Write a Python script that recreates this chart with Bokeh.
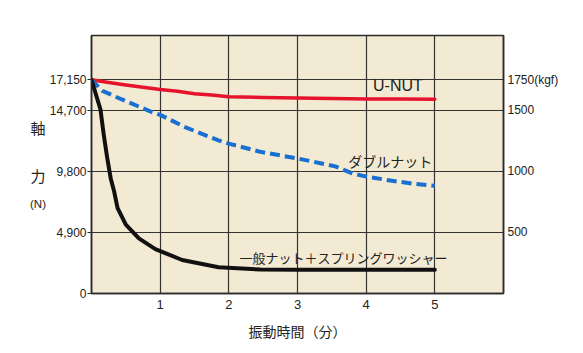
from bokeh.plotting import figure
from bokeh.layouts import row
from bokeh.models import Range1d, LinearAxis, FixedTicker, Label, NumeralTickFormatter
from bokeh.embed import file_html
from bokeh.resources import INLINE

# ---- data ----
x_ticks = [1, 2, 3, 4, 5]
y_ticks_n = [0, 4900, 9800, 14700, 17150]
y_ticks_kgf = [500, 1000, 1500, 1750]

unut_x = [0, 0.25, 0.5, 0.75, 1, 1.25, 1.5, 1.75, 2, 2.5, 3, 3.5, 4, 4.5, 5]
unut_y = [17150, 16940, 16740, 16560, 16380, 16230, 16030, 15930, 15800, 15730, 15700, 15650, 15620, 15610, 15600]

double_x = [0, 0.16, 0.4, 0.88, 1.0, 1.36, 1.85, 2.0, 2.46, 3, 3.35, 3.55, 3.8, 4, 4.4, 4.7, 5]
double_y = [17150, 16265, 15675, 14560, 14340, 13360, 12290, 12030, 11370, 10840, 10440, 10200, 9640, 9380, 9030, 8800, 8640]

spring_x = [0, 0.13, 0.18, 0.23, 0.28, 0.33, 0.38, 0.5, 0.69, 0.93, 1.32, 1.85, 2.46, 3.0, 4.0, 5.0]
spring_y = [17150, 14790, 12690, 10840, 9240, 8180, 6850, 5520, 4420, 3560, 2690, 2110, 1920, 1910, 1905, 1900]

Y_MAX = 20708
G = 9.8

JP = "Noto Sans CJK JP"
NUM = "Liberation Sans"

SIDE_W = 46
FRAME_TOP = 35
FRAME_BOTTOM = 293
FRAME_H = FRAME_BOTTOM - FRAME_TOP

# ---- left strip holding the stacked y-axis title (its frame aligns with the main frame) ----
side = figure(width=SIDE_W, height=353, output_backend="svg", toolbar_location=None,
              x_range=Range1d(0, SIDE_W), y_range=Range1d(0, FRAME_H),
              x_axis_type=None, y_axis_type=None,
              min_border_left=0, min_border_right=0, min_border_top=FRAME_TOP,
              min_border_bottom=353 - FRAME_BOTTOM)
side.outline_line_color = None
side.background_fill_color = "white"
side.border_fill_color = "white"
side.xgrid.visible = False
side.ygrid.visible = False
side.add_layout(Label(x=37.5, y=FRAME_BOTTOM - 127, text="軸", text_font=JP, text_font_size="15px",
                      text_color="#222222", text_align="center", text_baseline="middle"))
side.add_layout(Label(x=37.5, y=FRAME_BOTTOM - 175, text="力", text_font=JP, text_font_size="15px",
                      text_color="#222222", text_align="center", text_baseline="middle"))
side.add_layout(Label(x=37.5, y=FRAME_BOTTOM - 203, text="(N)", text_font=NUM, text_font_size="11.5px",
                      text_color="#222222", text_align="center", text_baseline="middle"))

# ---- main chart ----
p = figure(width=583 - SIDE_W, height=353, output_backend="svg", toolbar_location=None,
           x_range=Range1d(0, 6), y_range=Range1d(0, Y_MAX),
           min_border_left=91 - SIDE_W, min_border_right=80,
           min_border_top=FRAME_TOP, min_border_bottom=353 - FRAME_BOTTOM)
p.background_fill_color = "#F2EAD2"
p.border_fill_color = "white"
p.outline_line_color = "#2b2b2b"
p.outline_line_width = 1.5

# left axis
ya = p.yaxis[0]
ya.ticker = FixedTicker(ticks=y_ticks_n)
ya.formatter = NumeralTickFormatter(format="0,0")
ya.major_tick_out = 4
ya.major_tick_in = 0
ya.minor_tick_out = 0
ya.minor_tick_in = 0
ya.major_label_standoff = 1
ya.axis_line_color = "#2b2b2b"
ya.axis_line_width = 1.5
ya.major_tick_line_color = "#2b2b2b"
ya.major_label_text_font = NUM
ya.major_label_text_font_size = "12px"
ya.major_label_text_color = "#222222"

# bottom axis
xa = p.xaxis[0]
xa.ticker = FixedTicker(ticks=x_ticks)
xa.major_tick_out = 0
xa.major_tick_in = 0
xa.minor_tick_out = 0
xa.minor_tick_in = 0
xa.major_label_standoff = 6
xa.axis_line_color = "#2b2b2b"
xa.axis_line_width = 1.5
xa.major_label_text_font = NUM
xa.major_label_text_font_size = "13px"
xa.major_label_text_color = "#222222"
xa.axis_label = "振動時間（分）"
xa.axis_label_text_font = JP
xa.axis_label_text_font_size = "14px"
xa.axis_label_text_font_style = "normal"
xa.axis_label_text_color = "#222222"
xa.axis_label_standoff = 9

# right axis (kgf)
p.extra_y_ranges = {"kgf": Range1d(0, Y_MAX / G)}
ra = LinearAxis(y_range_name="kgf", ticker=FixedTicker(ticks=y_ticks_kgf))
ra.major_label_overrides = {1750: "1750(kgf)"}
ra.major_tick_out = 0
ra.major_tick_in = 0
ra.minor_tick_out = 0
ra.minor_tick_in = 0
ra.major_label_standoff = 4
ra.axis_line_color = "#2b2b2b"
ra.axis_line_width = 1.5
ra.major_label_text_font = NUM
ra.major_label_text_font_size = "12px"
ra.major_label_text_color = "#222222"
p.add_layout(ra, "right")

# grid
p.xgrid.ticker = FixedTicker(ticks=x_ticks)
p.ygrid.ticker = FixedTicker(ticks=y_ticks_n)
for g in (p.xgrid[0], p.ygrid[0]):
    g.grid_line_color = "#333333"
    g.grid_line_width = 1.2
    g.grid_line_alpha = 1.0

# curves
p.line(unut_x, unut_y, line_color="#E5142C", line_width=3.5, line_join="round", line_cap="round")
p.line(double_x, double_y, line_color="#1A6FD2", line_width=4, line_dash="10 5", line_join="round")
p.line(spring_x, spring_y, line_color="#111111", line_width=4, line_join="round", line_cap="round")

# curve labels
p.add_layout(Label(x=4.1, y=16695, text="U-NUT", text_font=NUM, text_font_size="16px",
                   text_color="#222222", text_align="left", text_baseline="middle"))
p.add_layout(Label(x=3.74, y=10595, text="ダブルナット", text_font=JP, text_font_size="14px",
                   text_color="#222222", text_align="left", text_baseline="middle"))
p.add_layout(Label(x=2.155, y=2890, text="一般ナット＋スプリングワッシャー", text_font=JP,
                   text_font_size="13px", text_color="#222222", text_align="left",
                   text_baseline="middle"))

layout = row(side, p, spacing=0)
open("out.html", "w").write(file_html(layout, INLINE))
